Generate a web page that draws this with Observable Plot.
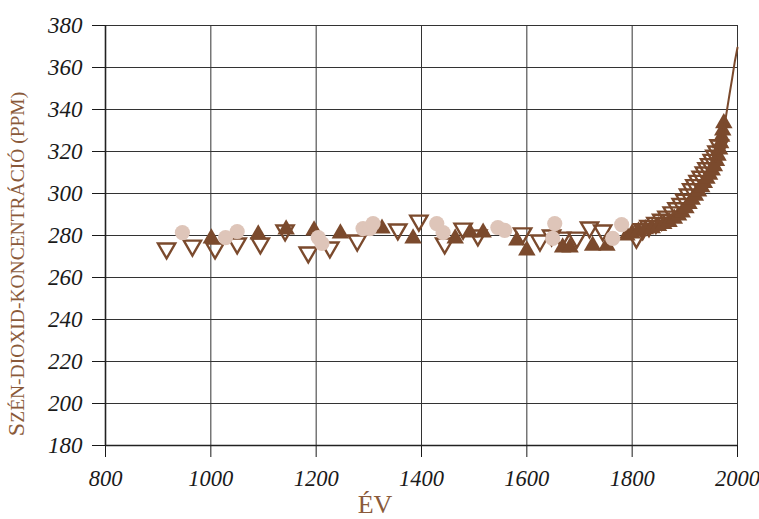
<!DOCTYPE html>
<html>
<head>
<meta charset="utf-8">
<script src="https://cdn.jsdelivr.net/npm/d3@7"></script>
<script src="https://cdn.jsdelivr.net/npm/@observablehq/plot@0.6"></script>
<style>
  html, body { margin: 0; padding: 0; background: #fff; }
  #chart { width: 759px; height: 519px; }
</style>
</head>
<body>
<div id="chart"></div>
<script>
// Tick values
const xTicks = [800, 1000, 1200, 1400, 1600, 1800, 2000];
const yTicks = [180, 200, 220, 240, 260, 280, 300, 320, 340, 360, 380];
const xGrid = [1000, 1200, 1400, 1600, 1800, 2000];

// Series A: hollow downward triangles [year, ppm]
const seriesDown = [
  [916, 273.8], [965, 275.2], [1008, 273.8], [1050, 276.2], [1094, 276.2],
  [1141, 282.4], [1185, 271.9], [1226, 274.3], [1278, 277.6], [1355, 282.9],
  [1395, 287.1], [1444, 276.2], [1479, 283.3], [1507, 280], [1592, 281],
  [1625, 277.6], [1647, 280], [1666, 279], [1695, 279], [1719, 283.8],
  [1744, 282.4], [1808, 279],
  [1820, 283], [1832, 284.5], [1845, 286], [1856, 287.5], [1866, 289],
  [1876, 291], [1885, 293], [1893, 295], [1900, 297], [1907, 299.5],
  [1913, 302], [1919, 304], [1925, 306], [1931, 308], [1937, 310],
  [1942, 312], [1947, 314], [1952, 316], [1957, 318], [1961, 320], [1965, 323]
];

// Series B: filled upward triangles [year, ppm]
const seriesUp = [
  [1001, 278.6], [1090, 280.5], [1143, 282.9], [1196, 282.4], [1246, 281],
  [1325, 283.3], [1384, 278.6], [1464, 278.6], [1492, 281.4], [1517, 281.4],
  [1581, 277.6], [1600, 272.9], [1668, 274.3], [1682, 274.3], [1725, 275.2],
  [1752, 275.2], [1790, 280],
  [1800, 281], [1812, 282], [1825, 283], [1838, 283.5], [1850, 284.5],
  [1860, 285.5], [1870, 286.5], [1880, 288], [1888, 289.5], [1895, 291],
  [1902, 293], [1908, 295], [1914, 297], [1920, 299], [1926, 301],
  [1932, 303], [1937, 305], [1942, 307], [1947, 309], [1952, 311],
  [1956, 313], [1960, 315.5], [1963, 318], [1966, 321], [1968, 324],
  [1970, 327], [1972, 330], [1974, 333.5]
];

// Series C: light circles [year, ppm]
const seriesCircle = [
  [946, 281.4], [1028, 279], [1050, 281.9], [1204, 279], [1211, 276.2],
  [1289, 283.3], [1302, 283.3], [1308, 285.7], [1429, 285.7], [1441, 281.4],
  [1545, 283.8], [1558, 282.4], [1653, 285.7], [1649, 278.6], [1780, 285.2],
  [1763, 278.6]
];

// Series D: line [year, ppm]
const seriesLine = [
  [1958, 315], [1965, 320], [1970, 325.5], [1977, 335], [1985, 347.5],
  [1990, 355], [1995, 363], [2000, 369.5]
];

const brown = "#7B4A2D";
const pink = "#DEC5B9";
const titleBrown = "#8A5A3A";

const downTriangle = {
  draw(context, size) {
    const y = -Math.sqrt(size / (Math.sqrt(3) * 3));
    context.moveTo(0, -y * 2);
    context.lineTo(-Math.sqrt(3) * y, y);
    context.lineTo(Math.sqrt(3) * y, y);
    context.closePath();
  }
};

const toObj = (arr) => arr.map(([year, ppm]) => ({year, ppm}));

const plot = Plot.plot({
  width: 759,
  height: 519,
  marginLeft: 105,
  marginRight: 22,
  marginTop: 25,
  marginBottom: 74,
  style: {
    fontFamily: "'Liberation Serif', 'DejaVu Serif', serif",
    fontStyle: "italic",
    fontSize: "23px",
    color: "#1a1a1a",
    background: "white",
    overflow: "visible"
  },
  x: {domain: [800, 2000], ticks: xTicks, tickFormat: "d", tickSize: 12, tickPadding: 13, label: null},
  y: {domain: [180, 380], ticks: yTicks, tickFormat: "d", tickSize: 13, tickPadding: 10, label: null},
  marks: [
    Plot.ruleY(yTicks, {stroke: "#333", strokeWidth: 1}),
    Plot.ruleX(xGrid, {stroke: "#333", strokeWidth: 1}),
    Plot.ruleX([800], {stroke: "#222", strokeWidth: 1.6}),
    Plot.ruleY([180], {stroke: "#222", strokeWidth: 1.6}),
    Plot.dot(toObj(seriesDown), {x: "year", y: "ppm", symbol: downTriangle, r: 6.4, fill: "none", stroke: brown, strokeWidth: 2.4}),
    Plot.dot(toObj(seriesUp), {x: "year", y: "ppm", symbol: "triangle", r: 6.5, fill: brown, stroke: "none"}),
    Plot.dot(toObj(seriesCircle), {x: "year", y: "ppm", r: 7.6, fill: pink, stroke: "none"}),
    Plot.line(toObj(seriesLine), {x: "year", y: "ppm", stroke: brown, strokeWidth: 2})
  ]
});

const svg = d3.select(plot);
// shrink x tick labels slightly so "2000" fits like the reference
svg.selectAll("[aria-label='x-axis tick label'] text, g[aria-label='x-axis'] text").style("font-size", "22.5px");

svg.append("text")
  .attr("x", 375).attr("y", 513)
  .attr("text-anchor", "middle")
  .style("font-style", "normal")
  .style("font-size", "26px")
  .attr("fill", titleBrown)
  .text("ÉV");

const yTitle = svg.append("text")
  .attr("transform", "translate(24,264) rotate(-90)")
  .attr("text-anchor", "middle")
  .style("font-style", "normal")
  .style("font-size", "19.5px")
  .attr("fill", titleBrown);
yTitle.append("tspan").style("font-size", "24px").text("S");
yTitle.append("tspan").text("ZÉN-DIOXID-KONCENTRÁCIÓ (PPM)");

document.getElementById("chart").appendChild(plot);
</script>
</body>
</html>
